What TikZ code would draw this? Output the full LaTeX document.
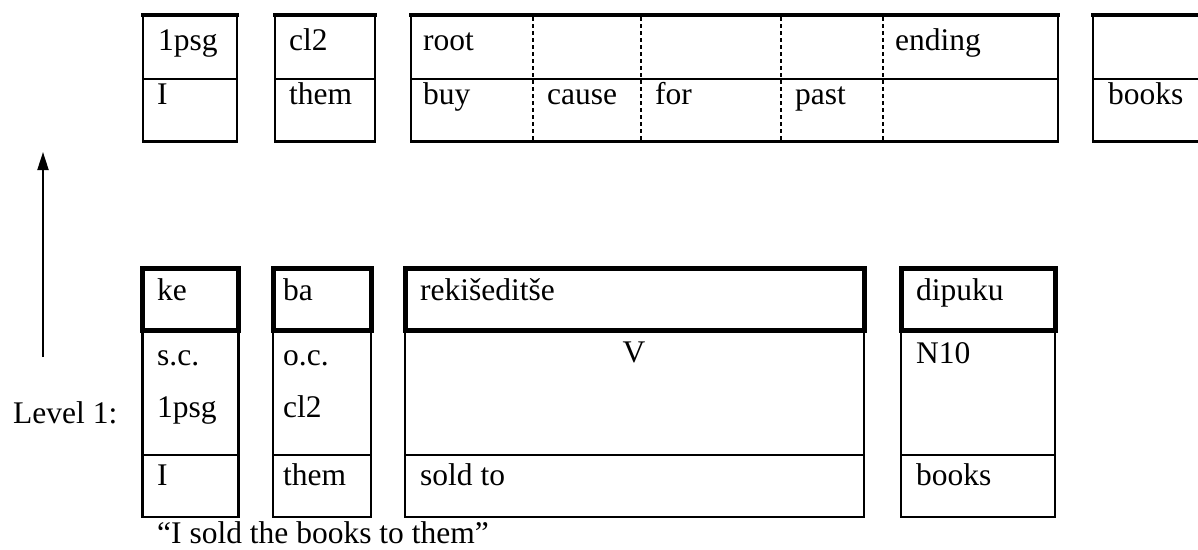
\documentclass[tikz,border=0pt]{standalone}
\usepackage{fontspec}
\setmainfont{Liberation Serif}
\usetikzlibrary{arrows.meta}
\begin{document}
\begin{tikzpicture}[x=1pt,y=-1pt,
  lbl/.style={anchor=base west,inner sep=0pt,font=\fontsize{31.5}{38}\selectfont},
  clbl/.style={lbl,anchor=base},
  framerule/.style={line width=2.6pt,line join=miter},
  headrule/.style={line width=4pt,line cap=rect},
  heavybox/.style={line width=5pt,line join=miter},
  cellrule/.style={line width=2.3pt,line join=miter},
  dashrule/.style={line width=2.4pt,dash pattern=on 4pt off 3pt},
  uparrow/.style={line width=2pt,-{Triangle[length=18pt,width=11pt]}}]
\useasboundingbox (0,0) rectangle (1198,549);
\clip (0,0) rectangle (1198,549);

% ---------- upper row: morpheme glosses ----------
\foreach \xa/\xb in {143/237, 275/375, 411/1058, 1093/1215}{
  \draw[framerule] (\xa,15) rectangle (\xb,141.5);
  \draw[framerule] (\xa,79) -- (\xb,79);
  \draw[headrule] (\xa,15) -- (\xb,15);
}
\foreach \xd in {533, 641, 781, 883}
  \draw[dashrule] (\xd,17) -- (\xd,140);

\node[lbl] (u1a) at (158,50) {1psg};
\node[lbl] (u1b) at (157,104) {I};
\node[lbl] (u2a) at (289,50) {cl2};
\node[lbl] (u2b) at (289,104) {them};
\node[lbl] (u3a) at (423,50) {root};
\node[lbl] (u3b) at (423,104) {buy};
\node[lbl] (u4b) at (547,104) {cause};
\node[lbl] (u5b) at (655,104) {for};
\node[lbl] (u6b) at (795,104) {past};
\node[lbl] (u7a) at (895,50) {ending};
\node[lbl] (u8b) at (1108,104) {books};

% ---------- lower row: level 1 analysis ----------
\foreach \xa/\xb in {142.5/238.5, 273/371, 405/864, 901/1055}{
  \draw[cellrule] (\xa,330) rectangle (\xb,517);
  \draw[cellrule] (\xa,455) -- (\xb,455);
  \draw[heavybox] (\xa,268) rectangle (\xb,330);
}

\node[lbl] (l1a) at (157,300) {ke};
\node[lbl] (l1b) at (157,365) {s.c.};
\node[lbl] (l1c) at (157,417) {1psg};
\node[lbl] (l1d) at (157,485) {I};

\node[lbl] (l2a) at (283,300) {ba};
\node[lbl] (l2b) at (283,365) {o.c.};
\node[lbl] (l2c) at (283,417) {cl2};
\node[lbl] (l2d) at (283,485) {them};

\node[lbl] (l3a) at (420,300) {rekišeditše};
\node[clbl] (l3b) at (634,362) {V};
\node[lbl] (l3d) at (420,485) {sold to};

\node[lbl] (l4a) at (916,300) {dipuku};
\node[lbl] (l4b) at (916,363) {N10};
\node[lbl] (l4d) at (916,485) {books};

\node[lbl] (level) at (13,423) {Level 1:};
\node[lbl] (gloss) at (157,543) {“I sold the books to them”};

% ---------- arrow from level 1 up to the gloss row ----------
\coordinate (arrowfoot) at (43,357);
\coordinate (arrowtip) at (43,152);
\draw[uparrow] (arrowfoot) -- (arrowtip);
\end{tikzpicture}
\end{document}
